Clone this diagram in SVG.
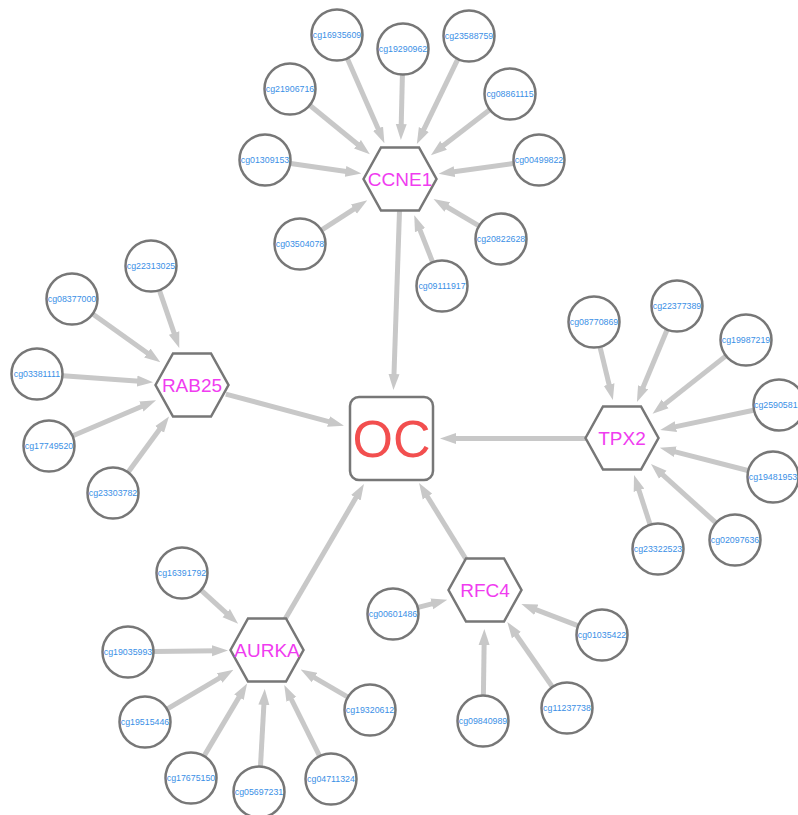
<svg xmlns="http://www.w3.org/2000/svg" width="798" height="815" viewBox="0 0 798 815">
<style>
.e{stroke:#c8c8c8;stroke-width:5;fill:none;marker-end:url(#arr)}
.cg{fill:#fff;stroke:#777;stroke-width:2.5}
.hx{fill:#fff;stroke:#777;stroke-width:2.5}
.t{font-family:"Liberation Sans",Arial,sans-serif;font-size:8.8px;fill:#3a8fe6;text-anchor:middle}
.h{font-family:"Liberation Sans",Arial,sans-serif;font-size:19px;fill:#f03cf0;text-anchor:middle}
.oc{font-family:"Liberation Sans",Arial,sans-serif;font-size:52px;fill:#f24f4f;text-anchor:middle}
</style>
<defs>
<marker id="arr" markerUnits="userSpaceOnUse" markerWidth="16" markerHeight="12" refX="6" refY="6" orient="auto">
<path d="M0,0.5 L16,6 L0,11.5 z" fill="#c8c8c8"/>
</marker>
<polygon id="hex" class="hx" points="-36.5,0 -19,-31.5 19,-31.5 36.5,0 19,31.5 -19,31.5"/>
</defs>
<rect width="798" height="815" fill="#fff"/>
<g id="edges">
<line class="e" x1="347.4" y1="58.8" x2="380.4" y2="134.1"/>
<line class="e" x1="402.4" y1="75.0" x2="401.1" y2="130.0"/>
<line class="e" x1="457.7" y1="59.4" x2="421.2" y2="134.9"/>
<line class="e" x1="310.1" y1="105.5" x2="362.1" y2="148.0"/>
<line class="e" x1="489.4" y1="109.9" x2="438.8" y2="149.1"/>
<line class="e" x1="290.7" y1="163.6" x2="351.5" y2="172.2"/>
<line class="e" x1="513.2" y1="163.5" x2="448.5" y2="172.4"/>
<line class="e" x1="321.8" y1="229.8" x2="358.9" y2="205.8"/>
<line class="e" x1="478.6" y1="225.7" x2="442.1" y2="204.0"/>
<line class="e" x1="432.5" y1="261.8" x2="417.9" y2="224.6"/>
<line class="e" x1="399.5" y1="211" x2="393.8" y2="380.0"/>
<line class="e" x1="159.5" y1="290.6" x2="176.0" y2="338.6"/>
<line class="e" x1="93.1" y1="314.2" x2="152.2" y2="356.5"/>
<line class="e" x1="62.9" y1="375.8" x2="143.1" y2="381.5"/>
<line class="e" x1="72.9" y1="435.8" x2="146.9" y2="404.2"/>
<line class="e" x1="128.3" y1="472.0" x2="163.1" y2="424.6"/>
<line class="e" x1="225.8" y1="394.1" x2="334.3" y2="423.1"/>
<line class="e" x1="600.1" y1="347.3" x2="610.5" y2="390.4"/>
<line class="e" x1="667.0" y1="330.0" x2="640.8" y2="392.8"/>
<line class="e" x1="725.6" y1="356.1" x2="660.4" y2="407.6"/>
<line class="e" x1="753.5" y1="410.3" x2="670.0" y2="427.9"/>
<line class="e" x1="747.8" y1="470.5" x2="669.5" y2="450.3"/>
<line class="e" x1="715.7" y1="522.6" x2="658.4" y2="470.8"/>
<line class="e" x1="650.0" y1="524.3" x2="637.1" y2="484.6"/>
<line class="e" x1="586" y1="438.5" x2="450" y2="438.5"/>
<line class="e" x1="418.2" y1="607.4" x2="437.6" y2="602.3"/>
<line class="e" x1="577.7" y1="625.7" x2="530.7" y2="607.6"/>
<line class="e" x1="483.4" y1="695.0" x2="484.2" y2="639.0"/>
<line class="e" x1="552.2" y1="686.6" x2="513.0" y2="630.2"/>
<line class="e" x1="468.2" y1="562.8" x2="424.3" y2="491.5"/>
<line class="e" x1="201.3" y1="590.4" x2="230.7" y2="617.1"/>
<line class="e" x1="154" y1="651.6" x2="218" y2="650.7"/>
<line class="e" x1="167.4" y1="708.8" x2="224.8" y2="674.9"/>
<line class="e" x1="204.3" y1="755.6" x2="242.0" y2="692.1"/>
<line class="e" x1="260.5" y1="766.0" x2="264.2" y2="698.9"/>
<line class="e" x1="319.4" y1="755.7" x2="288.7" y2="694.0"/>
<line class="e" x1="347.5" y1="696.9" x2="309.3" y2="674.6"/>
<line class="e" x1="283.7" y1="621.6" x2="358.9" y2="492.6"/>
</g>
<g id="OC"><rect x="350" y="397" width="83" height="83" rx="9" fill="#fff" stroke="#777" stroke-width="2.5"/><text class="oc" x="391.5" y="457">OC</text></g>
<g id="CCNE1"><use href="#hex" x="400" y="179"/><text class="h" x="400" y="186">CCNE1</text></g>
<g id="RAB25"><use href="#hex" x="192" y="385"/><text class="h" x="192" y="392">RAB25</text></g>
<g id="TPX2"><use href="#hex" x="622" y="438"/><text class="h" x="622" y="445">TPX2</text></g>
<g id="RFC4"><use href="#hex" x="485" y="590"/><text class="h" x="485" y="597">RFC4</text></g>
<g id="AURKA"><use href="#hex" x="267" y="650"/><text class="h" x="267" y="657">AURKA</text></g>
<g id="cg16935609"><circle class="cg" cx="337" cy="35" r="25.5"/><text class="t" x="337" y="38">cg16935609</text></g>
<g id="cg19290962"><circle class="cg" cx="403" cy="49" r="25.5"/><text class="t" x="403" y="52">cg19290962</text></g>
<g id="cg23588759"><circle class="cg" cx="469" cy="36" r="25.5"/><text class="t" x="469" y="39">cg23588759</text></g>
<g id="cg21906716"><circle class="cg" cx="290" cy="89" r="25.5"/><text class="t" x="290" y="92">cg21906716</text></g>
<g id="cg08861115"><circle class="cg" cx="510" cy="94" r="25.5"/><text class="t" x="510" y="97">cg08861115</text></g>
<g id="cg01309153"><circle class="cg" cx="265" cy="160" r="25.5"/><text class="t" x="265" y="163">cg01309153</text></g>
<g id="cg00499822"><circle class="cg" cx="539" cy="160" r="25.5"/><text class="t" x="539" y="163">cg00499822</text></g>
<g id="cg03504078"><circle class="cg" cx="300" cy="244" r="25.5"/><text class="t" x="300" y="247">cg03504078</text></g>
<g id="cg20822628"><circle class="cg" cx="501" cy="239" r="25.5"/><text class="t" x="501" y="242">cg20822628</text></g>
<g id="cg09111917"><circle class="cg" cx="442" cy="286" r="25.5"/><text class="t" x="442" y="289">cg09111917</text></g>
<g id="cg22313025"><circle class="cg" cx="151" cy="266" r="25.5"/><text class="t" x="151" y="269">cg22313025</text></g>
<g id="cg08377000"><circle class="cg" cx="72" cy="299" r="25.5"/><text class="t" x="72" y="302">cg08377000</text></g>
<g id="cg03381111"><circle class="cg" cx="37" cy="374" r="25.5"/><text class="t" x="37" y="377">cg03381111</text></g>
<g id="cg17749520"><circle class="cg" cx="49" cy="446" r="25.5"/><text class="t" x="49" y="449">cg17749520</text></g>
<g id="cg23303782"><circle class="cg" cx="113" cy="493" r="25.5"/><text class="t" x="113" y="496">cg23303782</text></g>
<g id="cg08770869"><circle class="cg" cx="594" cy="322" r="25.5"/><text class="t" x="594" y="325">cg08770869</text></g>
<g id="cg22377389"><circle class="cg" cx="677" cy="306" r="25.5"/><text class="t" x="677" y="309">cg22377389</text></g>
<g id="cg19987219"><circle class="cg" cx="746" cy="340" r="25.5"/><text class="t" x="746" y="343">cg19987219</text></g>
<g id="cg2590581"><circle class="cg" cx="779" cy="405" r="25.5"/><text class="t" x="754" y="408" style="text-anchor:start">cg2590581</text></g>
<g id="cg19481953"><circle class="cg" cx="773" cy="477" r="25.5"/><text class="t" x="773" y="480">cg19481953</text></g>
<g id="cg02097636"><circle class="cg" cx="735" cy="540" r="25.5"/><text class="t" x="735" y="543">cg02097636</text></g>
<g id="cg23322523"><circle class="cg" cx="658" cy="549" r="25.5"/><text class="t" x="658" y="552">cg23322523</text></g>
<g id="cg00601486"><circle class="cg" cx="393" cy="614" r="25.5"/><text class="t" x="393" y="617">cg00601486</text></g>
<g id="cg01035422"><circle class="cg" cx="602" cy="635" r="25.5"/><text class="t" x="602" y="638">cg01035422</text></g>
<g id="cg09840989"><circle class="cg" cx="483" cy="721" r="25.5"/><text class="t" x="483" y="724">cg09840989</text></g>
<g id="cg11237738"><circle class="cg" cx="567" cy="708" r="25.5"/><text class="t" x="567" y="711">cg11237738</text></g>
<g id="cg16391792"><circle class="cg" cx="182" cy="573" r="25.5"/><text class="t" x="182" y="576">cg16391792</text></g>
<g id="cg19035993"><circle class="cg" cx="128" cy="652" r="25.5"/><text class="t" x="128" y="655">cg19035993</text></g>
<g id="cg19515446"><circle class="cg" cx="145" cy="722" r="25.5"/><text class="t" x="145" y="725">cg19515446</text></g>
<g id="cg17675150"><circle class="cg" cx="191" cy="778" r="25.5"/><text class="t" x="191" y="781">cg17675150</text></g>
<g id="cg05697231"><circle class="cg" cx="259" cy="792" r="25.5"/><text class="t" x="259" y="795">cg05697231</text></g>
<g id="cg04711324"><circle class="cg" cx="331" cy="779" r="25.5"/><text class="t" x="331" y="782">cg04711324</text></g>
<g id="cg19320612"><circle class="cg" cx="370" cy="710" r="25.5"/><text class="t" x="370" y="713">cg19320612</text></g>
</svg>
